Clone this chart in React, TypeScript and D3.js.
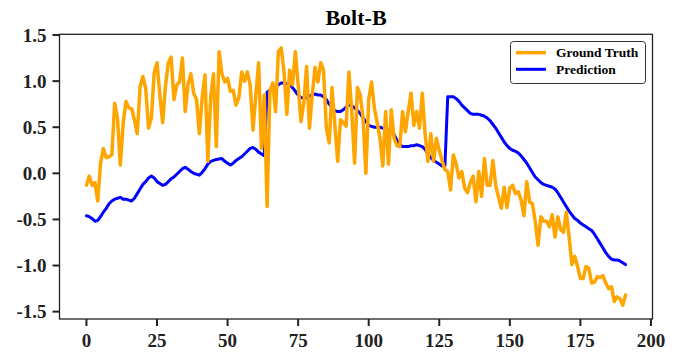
import React from "react";
import * as d3 from "d3";

const groundTruth: number[] = [
  -0.13, -0.03, -0.13, -0.1, -0.3, 0.11, 0.27, 0.17, 0.18, 0.2,
  0.76, 0.6, 0.09, 0.54, 0.78, 0.71, 0.7, 0.58, 0.43, 0.94,
  1.05, 0.92, 0.49, 0.6, 1.09, 1.2, 0.85, 0.55, 0.95, 1.2,
  1.26, 0.8, 0.96, 0.99, 1.25, 0.67, 0.97, 1.08, 0.87, 0.8,
  0.43, 0.82, 1.07, 0.13, 0.82, 1.08, 0.29, 1.32, 1.08, 0.99,
  1.03, 0.89, 0.9, 0.74, 0.82, 1.1, 1.0, 1.1, 0.96, 0.47,
  0.84, 1.2, 0.27, 0.85, -0.36, 0.89, 0.98, 0.67, 1.32, 1.36,
  1.1, 0.64, 1.12, 0.96, 1.32, 0.96, 0.56, 0.76, 1.16, 0.49,
  0.85, 1.15, 0.99, 1.2, 1.12, 0.49, 0.33, 0.93, 0.53, 0.13,
  0.58, 0.55, 0.51, 1.1, 0.67, 0.11, 0.93, 0.85, 0.6, 0.0,
  0.8, 0.99, 0.71, 0.55, 0.38, 0.08, 0.67, 0.1, 0.69, 0.38,
  0.3, 0.29, 0.67, 0.45, 0.67, 0.87, 0.52, 0.67, 0.49, 0.87,
  0.42, 0.13, 0.43, 0.13, 0.38, 0.25, 0.14, 0.04, 0.02, -0.18,
  0.2, 0.1, -0.05, 0.02, -0.16, -0.21, -0.1, -0.03, -0.31, 0.02,
  -0.25, 0.16, -0.13, -0.13, 0.14, -0.13, -0.26, -0.38, -0.15, -0.37,
  -0.16, -0.13, -0.22, -0.2, -0.29, -0.46, -0.09, -0.31, -0.33, -0.52,
  -0.78, -0.47, -0.52, -0.52, -0.58, -0.45, -0.69, -0.47, -0.61, -0.64,
  -0.42, -0.69, -0.99, -0.9, -1.01, -1.14, -1.14, -1.01, -1.03, -1.19,
  -1.18, -1.12, -1.13, -1.11, -1.19, -1.25, -1.23, -1.39, -1.34, -1.36,
  -1.43, -1.32,
];

const prediction: number[] = [
  -0.46, -0.47, -0.49, -0.52, -0.51, -0.47, -0.42, -0.38, -0.33, -0.3,
  -0.28, -0.27, -0.26, -0.28, -0.28, -0.29, -0.3, -0.27, -0.22, -0.17,
  -0.12, -0.09, -0.05, -0.03, -0.05, -0.09, -0.11, -0.13, -0.12, -0.09,
  -0.06, -0.04, -0.01, 0.02, 0.05, 0.065, 0.045, 0.02, 0.0, -0.01,
  -0.02, 0.01, 0.05, 0.1, 0.13, 0.14, 0.15, 0.155, 0.16, 0.13,
  0.11, 0.09, 0.11, 0.14, 0.16, 0.18, 0.21, 0.24, 0.27, 0.28,
  0.26, 0.23, 0.21, 0.19, 0.88, 0.9, 0.92, 0.94, 0.96, 0.98,
  0.98, 0.97, 0.96, 0.93, 0.89, 0.85, 0.82, 0.82, 0.82, 0.84,
  0.85, 0.86, 0.85, 0.85, 0.83, 0.8, 0.75, 0.71, 0.68, 0.67,
  0.67, 0.69, 0.72, 0.74, 0.73, 0.71, 0.68, 0.65, 0.6, 0.56,
  0.52, 0.51, 0.5, 0.5, 0.5, 0.49, 0.48, 0.47, 0.45, 0.42,
  0.36, 0.31, 0.29, 0.29, 0.29, 0.3, 0.3, 0.31, 0.3, 0.29,
  0.26, 0.21, 0.17, 0.14, 0.12, 0.1, 0.08, 0.08, 0.83, 0.83,
  0.83, 0.81, 0.78, 0.74, 0.71, 0.68, 0.65, 0.64, 0.64, 0.64,
  0.63, 0.62, 0.6, 0.57, 0.53, 0.49, 0.44, 0.39, 0.34, 0.3,
  0.27, 0.25, 0.24, 0.22, 0.19, 0.15, 0.11, 0.06, 0.01, -0.04,
  -0.07, -0.1, -0.12, -0.13, -0.14, -0.15, -0.17, -0.21, -0.26, -0.31,
  -0.36, -0.41, -0.45, -0.49, -0.51, -0.54, -0.56, -0.58, -0.6, -0.62,
  -0.66, -0.71, -0.76, -0.81, -0.86, -0.9, -0.93, -0.94, -0.94, -0.95,
  -0.97, -0.99,
];

const xTicks: number[] = [0, 25, 50, 75, 100, 125, 150, 175, 200];
const yTicks: number[] = [-1.5, -1.0, -0.5, 0.0, 0.5, 1.0, 1.5];
const seriesNames: string[] = ["Ground Truth", "Prediction"];
const title = "Bolt-B";

const W = 675;
const H = 361;
const L = 59.5, R = 652.5, T = 34.3, B = 319;
const FONT = "'Liberation Serif', 'Times New Roman', serif";
const ORANGE = "#FFA500";
const BLUE = "#0000FF";

export default function App() {
  const x = d3.scaleLinear().domain([-9.55, 200.55]).range([L, R]);
  const y = d3.scaleLinear().domain([-1.58, 1.508]).range([B, T]);
  const line = d3
    .line<number>()
    .x((_, i) => x(i))
    .y((d) => y(d));

  return (
    <svg
      width={W}
      height={H}
      style={{ position: "absolute", left: 0, top: 0, background: "#fff" }}
      fontFamily={FONT}
    >
      <rect x={0} y={0} width={W} height={H} fill="#fff" />
      <text
        x={(L + R) / 2}
        y={25}
        textAnchor="middle"
        fontSize={22}
        fontWeight="bold"
        fill="#000"
      >
        {title}
      </text>
      <defs>
        <clipPath id="plotclip">
          <rect x={L} y={T} width={R - L} height={B - T} />
        </clipPath>
      </defs>
      <g clipPath="url(#plotclip)">
        <path
          d={line(prediction) || ""}
          fill="none"
          stroke={BLUE}
          strokeWidth={3}
          strokeLinejoin="round"
          strokeLinecap="round"
        />
        <path
          d={line(groundTruth) || ""}
          fill="none"
          stroke={ORANGE}
          strokeWidth={3.5}
          strokeLinejoin="round"
          strokeLinecap="round"
        />
      </g>
      <rect
        x={L}
        y={T}
        width={R - L}
        height={B - T}
        fill="none"
        stroke="#222"
        strokeWidth={1.3}
      />
      {xTicks.map((t) => (
        <g key={"x" + t}>
          <line x1={x(t)} x2={x(t)} y1={B} y2={B + 7} stroke="#222" strokeWidth={2} />
          <text
            x={x(t)}
            y={B + 28}
            textAnchor="middle"
            fontSize={19}
            fontWeight="bold"
            fill="#222"
          >
            {String(t)}
          </text>
        </g>
      ))}
      {yTicks.map((t) => (
        <g key={"y" + t}>
          <line x1={L - 7} x2={L} y1={y(t)} y2={y(t)} stroke="#222" strokeWidth={2} />
          <text
            x={L - 13}
            y={y(t) + 6.5}
            textAnchor="end"
            fontSize={19}
            fontWeight="bold"
            fill="#222"
          >
            {t.toFixed(1)}
          </text>
        </g>
      ))}
      <g>
        <rect
          x={510.5}
          y={41.5}
          width={135}
          height={42}
          rx={3}
          fill="#fff"
          stroke="#333"
          strokeWidth={1}
        />
        {seriesNames.map((name, i) => (
          <g key={name}>
            <line
              x1={516}
              x2={546}
              y1={52.7 + i * 16.6}
              y2={52.7 + i * 16.6}
              stroke={i === 0 ? ORANGE : BLUE}
              strokeWidth={i === 0 ? 3.5 : 3}
            />
            <text
              x={556}
              y={52.7 + i * 16.6 + 4.5}
              fontSize={13.5}
              fontWeight="bold"
              fill="#000"
            >
              {name}
            </text>
          </g>
        ))}
      </g>
    </svg>
  );
}
